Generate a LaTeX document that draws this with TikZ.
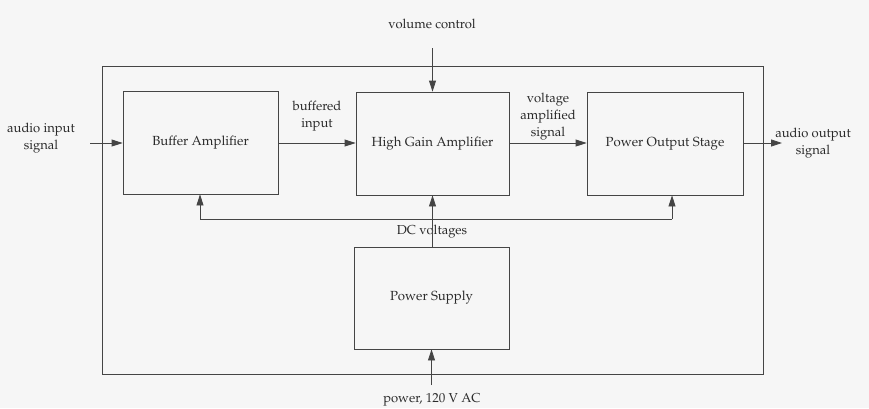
\documentclass[tikz,border=0pt]{standalone}
\usepackage[T1]{fontenc}
\renewcommand\rmdefault{ppl}
\usetikzlibrary{arrows.meta}
\definecolor{ink}{HTML}{454545}
\definecolor{txt}{HTML}{2A2A2A}
\definecolor{paper}{HTML}{F6F6F6}
\begin{document}
\begin{tikzpicture}[x=1pt,y=-1pt,
  line/.style={draw=ink,line width=0.8pt},
  arr/.style={line,-{Triangle[length=11pt,width=7pt]}},
  blk/.style={line,rectangle,minimum height=103pt,inner sep=0pt,text=txt,font=\fontsize{13.2}{16}\selectfont},
  lbl/.style={text=txt,align=center,inner sep=0pt,font=\fontsize{13}{17}\selectfont}]
\fill[paper] (0,0) rectangle (869,408);
\useasboundingbox (0,0) rectangle (869,408);
% frame
\node[line,rectangle,minimum width=661pt,minimum height=308pt,inner sep=0pt] (frame) at (432.5,220) {};
% blocks
\node[blk,minimum width=155pt] (buf) at (200.5,142.5) {Buffer Amplifier};
\node[blk,minimum width=153pt] (hga) at (432.5,143.5) {High Gain Amplifier};
\node[blk,minimum width=156pt] (pos) at (665,143.5) {Power Output Stage};
\node[blk,minimum width=155pt,minimum height=102pt] (ps) at (431.5,298) {Power Supply};
% labels
\node[lbl] (lin) at (41,138) {audio input\\signal};
\node[lbl] (lout) at (813,143) {audio output\\signal};
\node[lbl] (lbufin) at (317,116) {buffered\\input};
\node[lbl] (lvas) at (548,117) {voltage\\amplified\\signal};
\node[lbl] (lvol) at (432,24) {volume control};
\node[lbl] (ldc) at (432,232) {DC voltages};
\node[lbl] (lpow) at (432,400) {power, 120 V AC};
% coordinates
\coordinate (inS) at (90,143);
\coordinate (outE) at (782,143);
\coordinate (vc) at (432.5,48);
\coordinate (pw) at (431.5,385);
\coordinate (busL) at (200,219);
\coordinate (busR) at (672,219);
% connectors
\draw[arr] (inS) -- (inS -| buf.west);
\draw[arr] (buf.east |- 0,143) -- (hga.west |- 0,143);
\draw[arr] (hga.east |- 0,143) -- (pos.west |- 0,143);
\draw[arr] (pos.east |- 0,143) -- (outE);
\draw[arr] (vc) -- (vc |- hga.north);
\draw[arr] (ps.north -| vc) -- (vc |- hga.south);
\draw[line] (busL) -- (busR);
\draw[arr] (busL) -- (busL |- buf.south);
\draw[arr] (busR) -- (busR |- pos.south);
\draw[arr] (pw) -- (ps.south);
\end{tikzpicture}
\end{document}
